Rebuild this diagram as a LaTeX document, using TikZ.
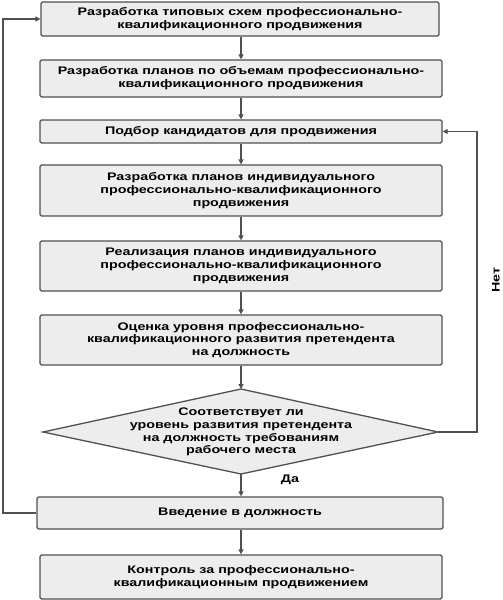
\documentclass[tikz,border=0pt]{standalone}
\usepackage{fontspec}
\setmainfont{Liberation Sans}[FakeStretch=1.3]
\usetikzlibrary{arrows.meta}
\definecolor{lineg}{HTML}{505050}
\definecolor{boxg}{HTML}{EDEDED}
\begin{document}
\begin{tikzpicture}[x=1pt,y=-1pt,
  txt/.style={font=\bfseries\fontsize{11}{12.8}\selectfont, align=center},
  box/.style={txt, draw=lineg, fill=boxg, line width=1.3pt, rounded corners=1.5pt, inner sep=0pt},
  dia/.style={draw=lineg, fill=boxg, line width=1.3pt, line join=miter},
  arr/.style={draw=lineg, line width=1.3pt, -{Triangle[length=5pt,width=5pt]}}]
\useasboundingbox (0,0) rectangle (503,600);
\node[box, minimum width=398pt, minimum height=34pt] (b1) at (240,19) {Разработка типовых схем профессионально-\\квалификационного продвижения};
\node[box, minimum width=402pt, minimum height=37pt] (b2) at (241,78.5) {Разработка планов по объемам профессионально-\\квалификационного продвижения};
\node[box, minimum width=402pt, minimum height=23pt] (b3) at (241,131.5) {Подбор кандидатов для продвижения};
\node[box, minimum width=402pt, minimum height=51pt] (b4) at (241,190.5) {Разработка планов индивидуального\\профессионально-квалификационного\\продвижения};
\node[box, minimum width=402pt, minimum height=50pt] (b5) at (241,266) {Реализация планов индивидуального\\профессионально-квалификационного\\продвижения};
\node[box, minimum width=402pt, minimum height=50pt] (b6) at (241,340) {Оценка уровня профессионально-\\квалификационного развития претендента\\на должность};
\coordinate (dt) at (241,389);
\coordinate (dr) at (438,432);
\coordinate (db) at (241,474);
\coordinate (dl) at (43,432);
\draw[dia] (dt) -- (dr) -- (db) -- (dl) -- cycle;
\node[txt] (d) at (241,432) {Соответствует ли\\уровень развития претендента\\на должность требованиям\\рабочего места};
\node[box, minimum width=406pt, minimum height=32pt] (b7) at (240,513) {Введение в должность};
\node[box, minimum width=402pt, minimum height=44pt] (b8) at (241,577) {Контроль за профессионально-\\квалификационным продвижением};
\coordinate (x) at (241,0);
\draw[arr] (b1.south -| x) -- (b2.north -| x);
\draw[arr] (b2.south -| x) -- (b3.north -| x);
\draw[arr] (b3.south -| x) -- (b4.north -| x);
\draw[arr] (b4.south -| x) -- (b5.north -| x);
\draw[arr] (b5.south -| x) -- (b6.north -| x);
\draw[arr] (b6.south -| x) -- (dt);
\draw[arr] (db) -- (b7.north -| db);
\draw[arr] (b7.south -| x) -- (b8.north -| x);
\coordinate (lft) at (3,513);
\coordinate (rgt) at (477,432);
\draw[arr] (b7.west) -- (lft) |- (b1.west);
\draw[arr] (dr) -- (rgt) |- (b3.east);
\node[txt, rotate=90] (net) at (496,280) {Нет};
\node[txt] (da) at (290,480) {Да};
\end{tikzpicture}
\end{document}
